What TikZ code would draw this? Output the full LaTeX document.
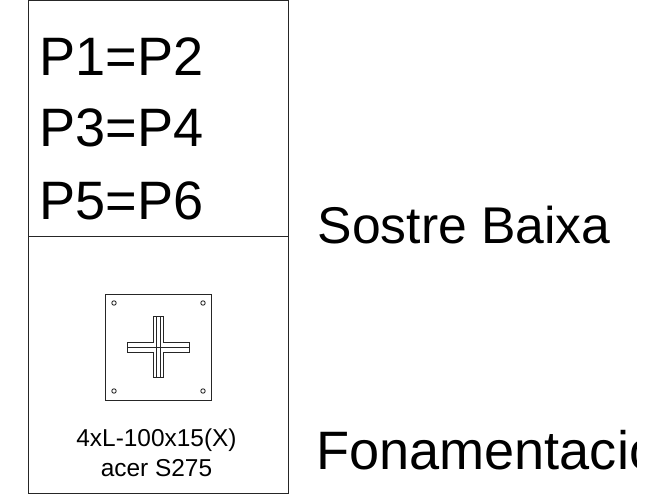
\documentclass[tikz,border=0pt]{standalone}
\usepackage{fontspec}
\setmainfont{Liberation Sans}
\tikzset{
	frameline/.style={draw=black!85, line width=0.25pt},
	bigtext/.style={anchor=base west, inner sep=0pt, font=\fontsize{15.4pt}{18pt}\selectfont},
	smalltext/.style={anchor=base, inner sep=0pt, font=\fontsize{6.95pt}{8pt}\selectfont}
}
\begin{document}
\begin{tikzpicture}
	\useasboundingbox (0,0) rectangle (6.52,-4.96);
	
	% Draw outer frame and divider
	\draw[frameline] (0.28,-0.005) rectangle (2.88,-4.93);
	\draw[frameline] (0.28,-2.36) -- (2.88,-2.36);
	
	% Draw pillar labels
	\node[bigtext] (p12) at (0.39,-0.75) {P1=P2};
	\node[bigtext] (p34) at (0.39,-1.465) {P3=P4};
	\node[bigtext] (p56) at (0.39,-2.19) {P5=P6};
	
	% Draw base plate
	\draw[frameline] (1.05,-2.94) rectangle (2.11,-4.00);
	
	% Draw bolts
	\draw[frameline] (1.14,-3.03) circle (0.022);
	\draw[frameline] (2.03,-3.03) circle (0.022);
	\draw[frameline] (1.14,-3.91) circle (0.022);
	\draw[frameline] (2.03,-3.91) circle (0.022);
	
	% Draw cross section
	\draw[frameline] (1.533,-3.167) -- (1.633,-3.167) -- (1.633,-3.427) -- (1.89,-3.427) -- (1.89,-3.527) -- (1.633,-3.527) -- (1.633,-3.777) -- (1.533,-3.777) -- (1.533,-3.527) -- (1.273,-3.527) -- (1.273,-3.427) -- (1.533,-3.427) -- cycle;
	\draw[frameline] (1.56,-3.167) -- (1.56,-3.777);
	\draw[frameline] (1.607,-3.167) -- (1.607,-3.777);
	\draw[frameline] (1.273,-3.475) -- (1.89,-3.475);
	
	% Profile label
	\node[smalltext] (profile) at (1.565,-4.46) {4xL-100x15(X)};
	\node[smalltext] (steel) at (1.565,-4.767) {acer S275};
	
	% Level labels, the last one is cut off
	\node[bigtext, font=\fontsize{14.7pt}{18pt}\selectfont] (upper) at (3.17,-2.43) {Sostre Baixa};
	\begin{scope}
		\clip (3.0,-4.0) rectangle (6.365,-4.96);
		\node[bigtext] (lower) at (3.155,-4.69) {Fonamentació};
	\end{scope}
\end{tikzpicture}
\end{document}
